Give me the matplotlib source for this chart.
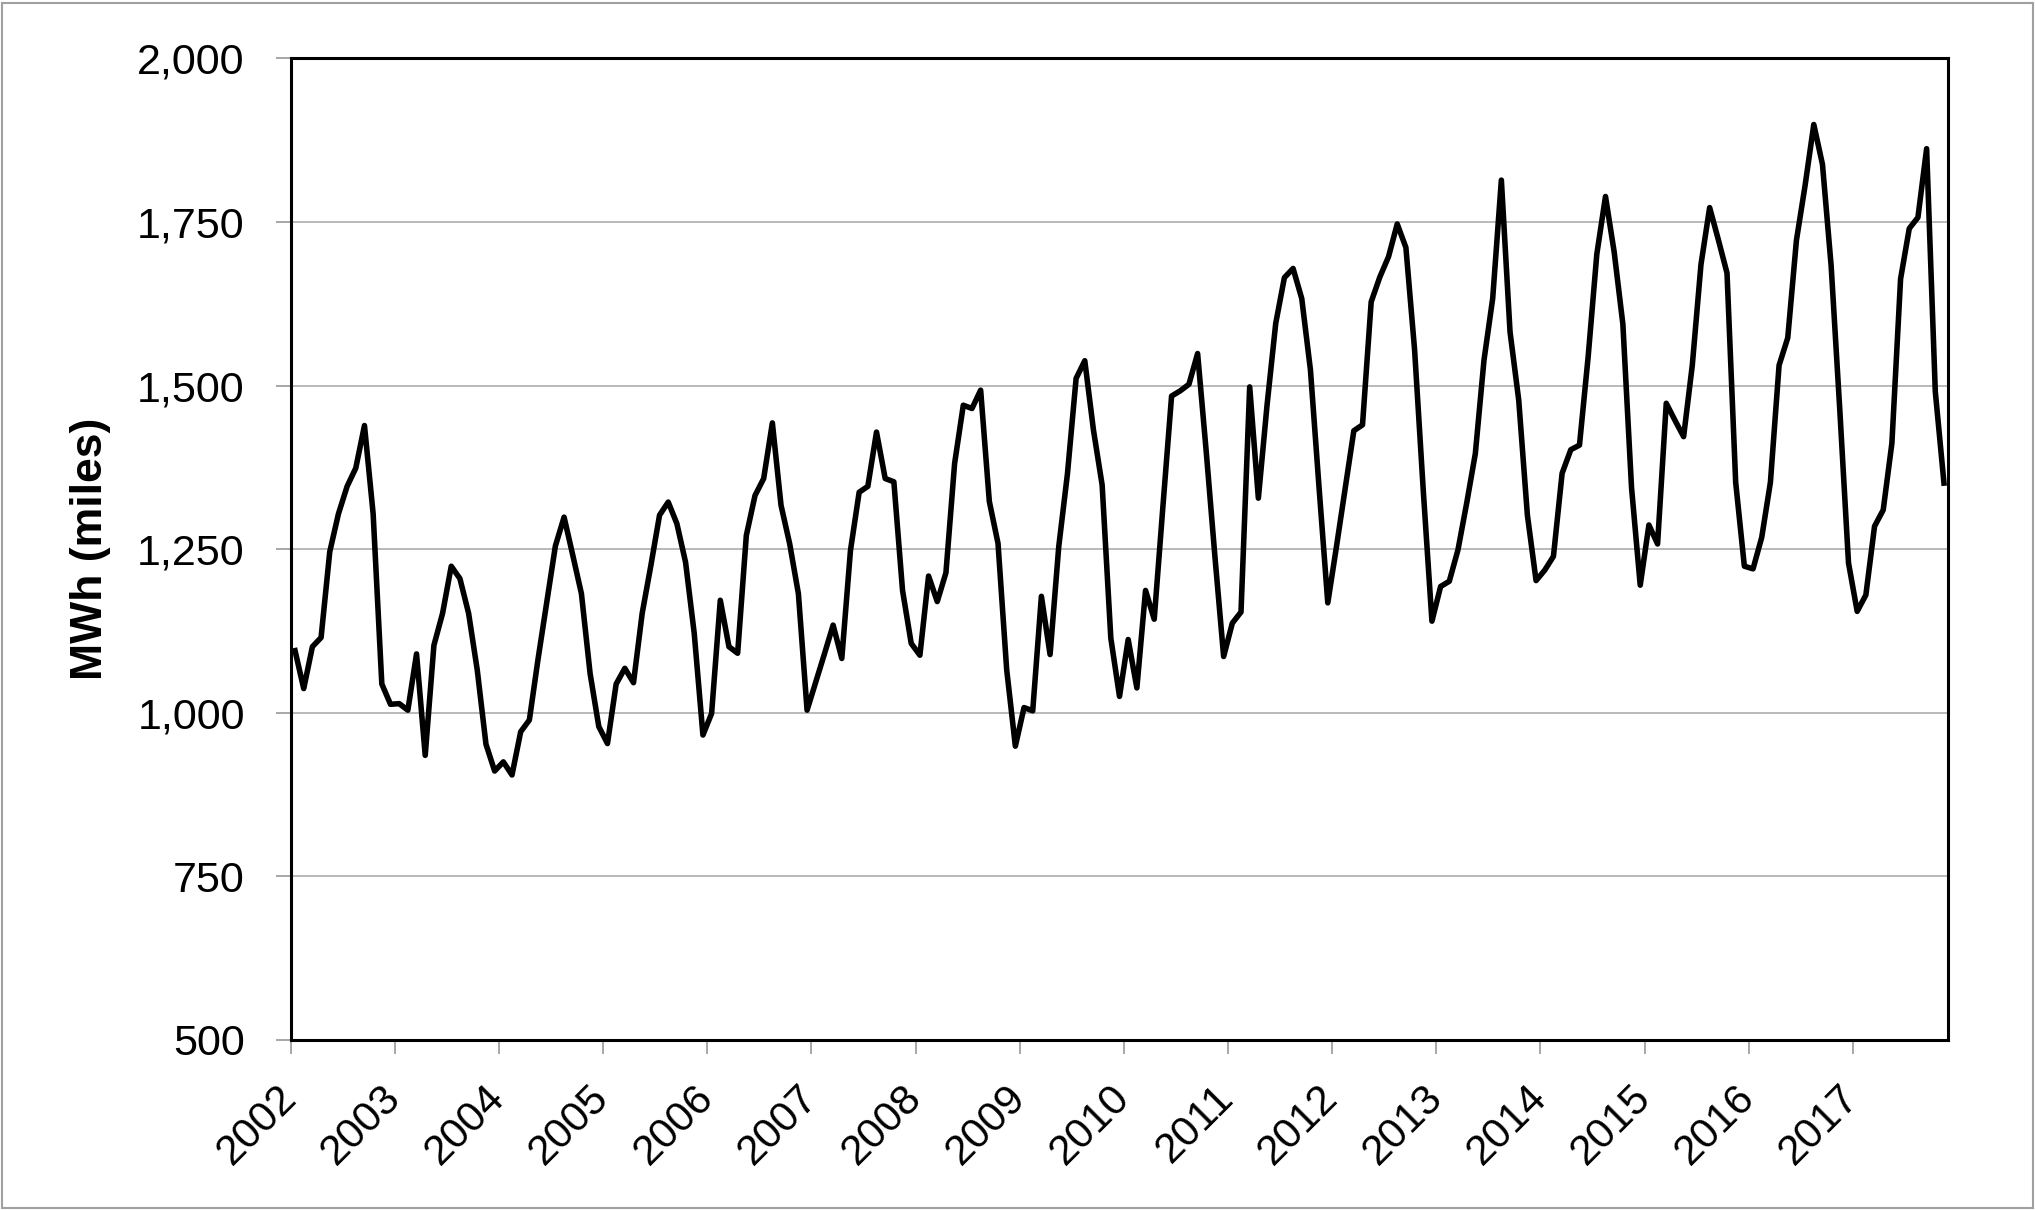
import matplotlib
matplotlib.use('Agg')
import matplotlib.pyplot as plt
from matplotlib.patches import Rectangle
from matplotlib.ticker import FuncFormatter

plt.rcParams['font.family'] = ['Liberation Sans', 'DejaVu Sans']

# Monthly values, Jan 2002 - Nov 2017
years = list(range(2002, 2018))
v2002 = [1095, 1037, 1101, 1115, 1246, 1304, 1346, 1374, 1439, 1304, 1044, 1013]
v2003 = [1014, 1004, 1090, 935, 1103, 1152, 1224, 1205, 1152, 1065, 952, 911]
v2004 = [925, 905, 971, 989, 1082, 1168, 1255, 1299, 1241, 1182, 1060, 979]
v2005 = [953, 1044, 1068, 1046, 1152, 1225, 1302, 1322, 1289, 1230, 1121, 966]
v2006 = [999, 1172, 1101, 1091, 1271, 1332, 1358, 1443, 1317, 1258, 1182, 1004]
v2007 = [1047, 1090, 1134, 1083, 1248, 1337, 1346, 1429, 1358, 1353, 1187, 1106]
v2008 = [1088, 1209, 1170, 1214, 1381, 1470, 1465, 1493, 1323, 1259, 1066, 949]
v2009 = [1008, 1003, 1178, 1089, 1254, 1365, 1511, 1538, 1432, 1348, 1114, 1025]
v2010 = [1112, 1038, 1187, 1143, 1315, 1484, 1492, 1502, 1549, 1398, 1238, 1086]
v2011 = [1137, 1154, 1498, 1328, 1470, 1595, 1665, 1679, 1633, 1524, 1343, 1168]
v2012 = [1254, 1343, 1431, 1440, 1628, 1666, 1697, 1747, 1711, 1555, 1340, 1140]
v2013 = [1193, 1201, 1249, 1320, 1396, 1539, 1633, 1814, 1582, 1478, 1302, 1202]
v2014 = [1218, 1239, 1366, 1402, 1409, 1544, 1701, 1789, 1704, 1594, 1344, 1195]
v2015 = [1287, 1258, 1473, 1447, 1422, 1531, 1685, 1772, 1723, 1672, 1352, 1224]
v2016 = [1220, 1268, 1352, 1531, 1573, 1722, 1806, 1899, 1838, 1683, 1462, 1229]
v2017 = [1155, 1180, 1285, 1310, 1412, 1663, 1740, 1757, 1862, 1491, 1351]

values = (v2002 + v2003 + v2004 + v2005 + v2006 + v2007 + v2008 + v2009 +
          v2010 + v2011 + v2012 + v2013 + v2014 + v2015 + v2016 + v2017)
months = list(range(len(values)))

y_ticks = [500, 750, 1000, 1250, 1500, 1750, 2000]
y_label = "MWh (miles)"

fig = plt.figure(figsize=(20.35, 12.10), dpi=100)
fig.patch.set_facecolor('white')
ax = fig.add_axes([0.14285, 0.1405, 0.81455, 0.81124])

ax.plot(months, values, color='black', lw=4.0, solid_joinstyle='round', zorder=3)

ax.set_xlim(-0.5, len(values) - 0.5)
ax.set_ylim(500, 2000)
ax.set_yticks(y_ticks)
ax.yaxis.set_major_formatter(FuncFormatter(lambda v, p: f"{int(v):,}"))
ax.set_xticks([-0.5 + 12 * i for i in range(len(years))])
ax.set_xticklabels([str(y) for y in years], rotation=45, ha='right',
                   rotation_mode='anchor', va='center')

ax.grid(axis='y', color='#a6a6a6', lw=1.1, zorder=1)
ax.set_axisbelow(True)

for s in ax.spines.values():
    s.set_color('black')
    s.set_linewidth(2.2)

ax.tick_params(axis='y', direction='out', length=11, width=1.1, color='#909090',
               labelsize=31, pad=22)
ax.tick_params(axis='x', direction='out', length=10, width=1.1, color='#909090',
               labelsize=30.5, pad=27)

ax.set_ylabel(y_label, fontsize=32, fontweight='bold', labelpad=19)

fig.patches.append(Rectangle((0.0012, 0.002), 0.9976, 0.9955, transform=fig.transFigure,
                             fill=False, ec='#a0a0a0', lw=1.5))

fig.savefig('out.png', dpi=100)
